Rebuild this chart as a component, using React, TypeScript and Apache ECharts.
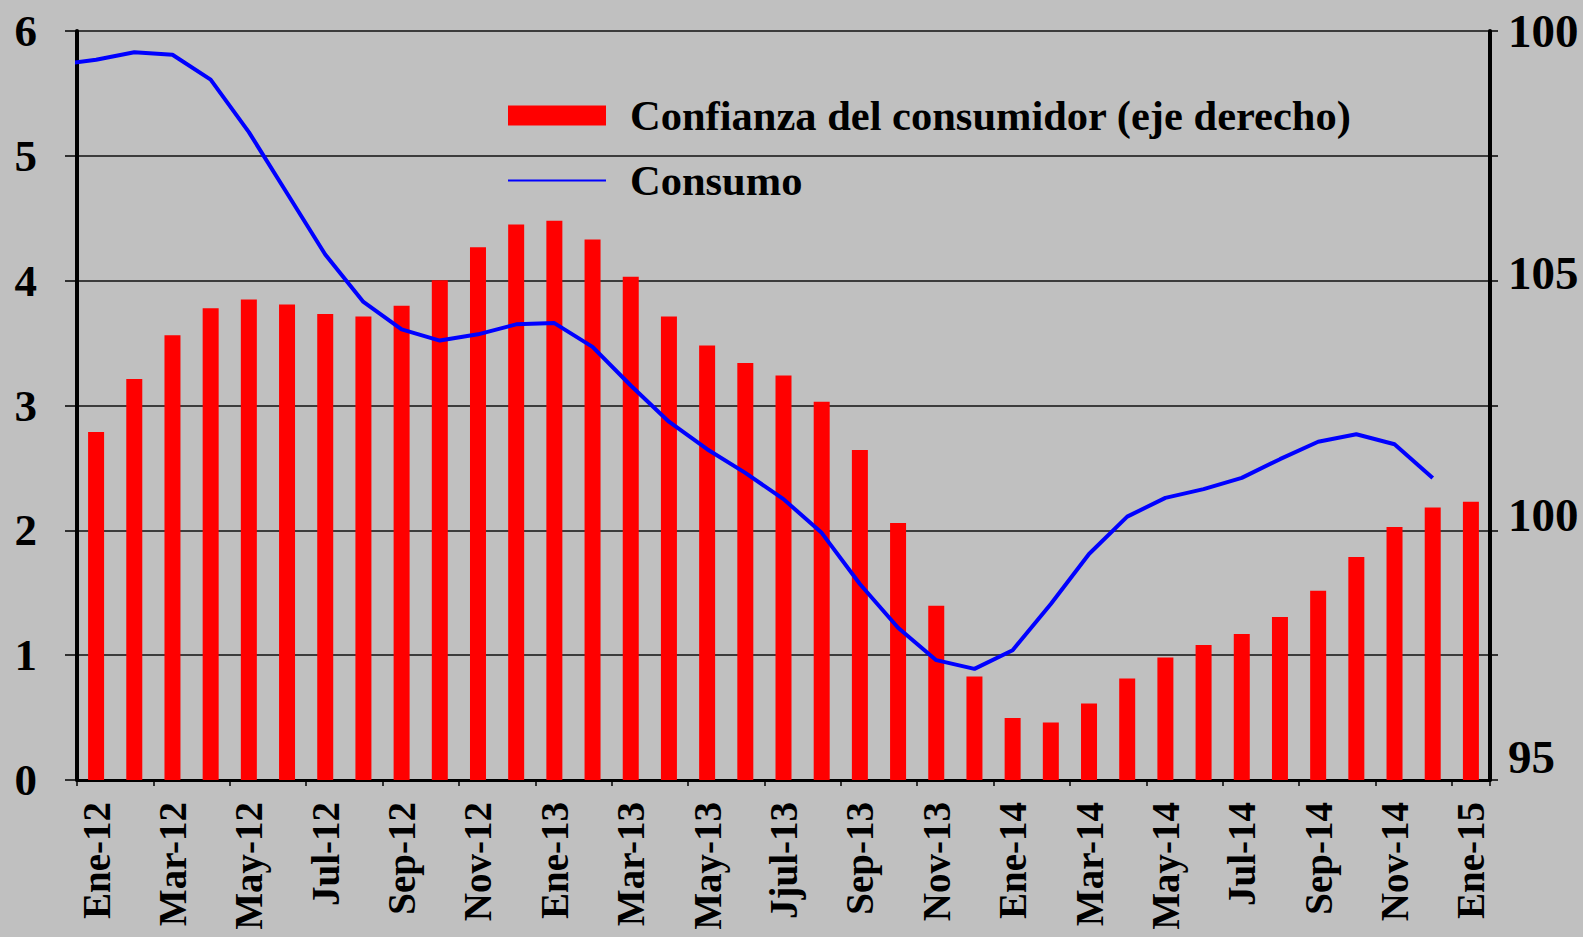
import React, { useEffect, useRef } from "react";
import * as echarts from "echarts";

// Month categories (bars)
const categories = [
  "Ene-12", "Feb-12", "Mar-12", "Abr-12", "May-12", "Jun-12", "Jul-12", "Ago-12", "Sep-12", "Oct-12", "Nov-12", "Dic-12",
  "Ene-13", "Feb-13", "Mar-13", "Abr-13", "May-13", "Jun-13", "Jjul-13", "Ago-13", "Sep-13", "Oct-13", "Nov-13", "Dic-13",
  "Ene-14", "Feb-14", "Mar-14", "Abr-14", "May-14", "Jun-14", "Jul-14", "Ago-14", "Sep-14", "Oct-14", "Nov-14", "Dic-14",
  "Ene-15",
];

// Confianza del consumidor (right axis)
const confianza = [
  101.71, 102.81, 103.71, 104.27, 104.45, 104.35, 104.15, 104.10, 104.32, 104.85, 105.53, 106.00,
  106.08, 105.69, 104.92, 104.10, 103.50, 103.14, 102.88, 102.34, 101.34, 99.83, 98.12, 96.66,
  95.80, 95.71, 96.10, 96.62, 97.05, 97.31, 97.54, 97.89, 98.43, 99.13, 99.75, 100.15,
  100.27,
];

// Consumo (left axis), Dic-11 .. Dic-14 (first point is the month before Ene-12)
const consumo = [
  5.73,
  5.77, 5.83, 5.81, 5.61, 5.19, 4.70, 4.21, 3.83, 3.61, 3.52, 3.57, 3.65,
  3.66, 3.47, 3.16, 2.87, 2.65, 2.46, 2.25, 1.98, 1.57, 1.22, 0.96, 0.89,
  1.04, 1.41, 1.81, 2.11, 2.26, 2.33, 2.42, 2.57, 2.71, 2.77, 2.69, 2.42,
];
const consumoOffset = -1; // first consumo value sits one month before Ene-12

// Axis ticks / labels
const leftTicks = [0, 1, 2, 3, 4, 5, 6];
const rightMin = 94.52;
const rightMax = 110;
const rightTickValues = [95, 100, 105, 110];
const rightTickLabels = ["95", "100", "105", "100"];

const SERIF = "'Liberation Serif', 'Times New Roman', serif";

export default function App() {
  const ref = useRef<HTMLDivElement>(null);

  useEffect(() => {
    if (!ref.current) return;
    const chart = echarts.init(ref.current, null, { renderer: "svg" });
    const leftMax = leftTicks[leftTicks.length - 1];
    const rightTickAtGrid = leftTicks.map(
      (t) => rightMin + (t / leftMax) * (rightMax - rightMin)
    );

    const option: any = {
      animation: false,
      backgroundColor: "#C0C0C0",
      grid: { left: 77, right: 93, top: 31, bottom: 157, containLabel: false },
      legend: {
        orient: "vertical",
        left: 502,
        top: 89,
        itemGap: 22,
        itemWidth: 98,
        itemHeight: 20,
        selectedMode: false,
        textStyle: {
          fontFamily: SERIF,
          fontWeight: "bold",
          fontSize: 42.5,
          lineHeight: 42,
          color: "#000",
          padding: [0, 0, 0, 19],
        },
        data: [
          { name: "Confianza del consumidor (eje derecho)", icon: "rect" },
          { name: "Consumo", itemStyle: { opacity: 0 } },
        ],
      },
      xAxis: [
        {
          type: "category",
          data: categories,
          boundaryGap: true,
          axisLine: { show: true, onZero: false, lineStyle: { color: "#000", width: 3 } },
          axisTick: { show: true, interval: 1, length: 6, lineStyle: { color: "#000", width: 1.5 } },
          axisLabel: {
            interval: 1,
            rotate: 90,
            margin: 22,
            fontFamily: SERIF,
            fontWeight: "bold",
            fontSize: 39,
            color: "#000",
          },
          splitLine: { show: false },
        },
        {
          type: "value",
          min: -0.5,
          max: categories.length - 0.5,
          show: false,
        },
      ],
      yAxis: [
        {
          type: "value",
          min: 0,
          max: 6,
          interval: 1,
          position: "left",
          axisLine: { show: true, onZero: false, lineStyle: { color: "#000", width: 4 } },
          axisTick: { show: true, length: 12, lineStyle: { color: "#000", width: 1.5 } },
          axisLabel: {
            margin: 40,
            fontFamily: SERIF,
            fontWeight: "bold",
            fontSize: 45,
            color: "#000",
          },
          splitLine: { show: true, lineStyle: { color: "#111", width: 1.5 } },
        },
        {
          type: "value",
          min: rightMin,
          max: rightMax,
          startValue: rightMin,
          position: "right",
          axisLine: { show: true, onZero: false, lineStyle: { color: "#000", width: 4 } },
          axisTick: {
            show: true,
            length: 8,
            customValues: rightTickAtGrid,
            lineStyle: { color: "#000", width: 1.5 },
          },
          axisLabel: {
            margin: 18,
            customValues: rightTickValues,
            formatter: (v: number) => {
              const i = rightTickValues.findIndex((t) => Math.abs(t - v) < 1e-6);
              return i >= 0 ? rightTickLabels[i] : "";
            },
            fontFamily: SERIF,
            fontWeight: "bold",
            fontSize: 47,
            color: "#000",
          },
          splitLine: { show: false },
        },
      ],
      series: [
        {
          name: "Confianza del consumidor (eje derecho)",
          type: "bar",
          xAxisIndex: 0,
          yAxisIndex: 1,
          data: confianza,
          barWidth: 16,
          clip: true,
          itemStyle: { color: "#FF0000" },
        },
        {
          name: "Consumo",
          type: "line",
          xAxisIndex: 1,
          yAxisIndex: 0,
          data: consumo.map((v, i) => [i + consumoOffset, v]),
          symbol: "none",
          showSymbol: false,
          clip: true,
          smooth: false,
          lineStyle: { color: "#0000FF", width: 4 },
          itemStyle: { color: "#0000FF" },
          z: 3,
        },
      ],
    };

    chart.setOption(option);
    return () => chart.dispose();
  }, []);

  return (
    <div
      ref={ref}
      style={{ position: "fixed", left: 0, top: 0, width: 1583, height: 937 }}
    />
  );
}
